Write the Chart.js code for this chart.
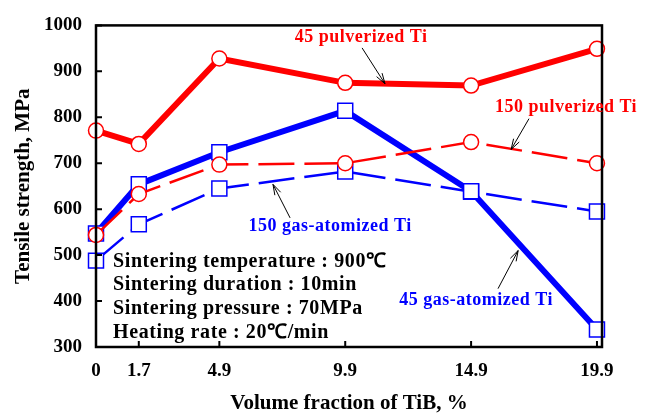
<!DOCTYPE html>
<html>
<head>
<meta charset="utf-8">
<script src="https://cdn.jsdelivr.net/npm/chart.js@4.4.1/dist/chart.umd.min.js"></script>
<style>
  html, body { margin: 0; padding: 0; background: #fff; }
  #wrap { width: 645px; height: 413px; }
</style>
</head>
<body>
<div id="wrap"><canvas id="myChart" width="645" height="413"></canvas></div>
<script>
// volume fraction of TiB (%)
const xTicks = [0, 1.7, 4.9, 9.9, 14.9, 19.9];
const yTicks = [300, 400, 500, 600, 700, 800, 900, 1000];

// tensile strength, MPa
const pulv45 = [771, 742, 928, 875, 869, 949];
const pulv150 = [544, 633, 697, 700, 746, 700];
const gas45 = [547, 654, 724, 814, 639, 338];
const gas150 = [488, 567, 645, 682, 638, 595];

const infoLines = [
    'Sintering temperature : 900\u2103',
    'Sintering duration : 10min',
    'Sintering pressure : 70MPa',
    'Heating rate : 20\u2103/min'
];

const RED = '#ff0000';
const BLUE = '#0000ff';
const SERIF = "'Liberation Serif', 'Times New Roman', serif";

function toPoints(vals) {
    return vals.map((v, i) => ({x: xTicks[i], y: v}));
}

// label text, its anchor and arrow (tail -> head) in data units
const notes = [
    {text: '45 pulverized Ti', color: RED, at: [10.53, 975], tail: [10.57, 951], head: [11.48, 873]},
    {text: '150 pulverized Ti', color: RED, at: [18.67, 821], tail: [17.2, 797], head: [16.49, 730]},
    {text: '150 gas-atomized Ti', color: BLUE, at: [9.3, 563], tail: [7.71, 581], head: [7.03, 654]},
    {text: '45 gas-atomized Ti', color: BLUE, at: [15.1, 401], tail: [15.97, 427], head: [16.77, 510]}
];

const decor = {
    id: 'decor',
    afterDraw(chart) {
        const ctx = chart.ctx;
        const a = chart.chartArea;
        const xs = chart.scales.x;
        const ys = chart.scales.y;
        ctx.save();

        // frame
        ctx.strokeStyle = '#000';
        ctx.lineWidth = 2.5;
        ctx.strokeRect(a.left, a.top, a.right - a.left, a.bottom - a.top);

        // inner tick marks
        ctx.lineWidth = 2;
        ctx.beginPath();
        yTicks.forEach(v => {
            const y = ys.getPixelForValue(v);
            ctx.moveTo(a.left, y);
            ctx.lineTo(a.left + 6, y);
        });
        xTicks.forEach(v => {
            const x = xs.getPixelForValue(v);
            ctx.moveTo(x, a.bottom);
            ctx.lineTo(x, a.bottom - 6);
        });
        ctx.stroke();

        // labels with arrows
        ctx.font = 'bold 18px ' + SERIF;
        ctx.textAlign = 'center';
        ctx.textBaseline = 'middle';
        ctx.letterSpacing = '0.5px';
        notes.forEach(n => {
            ctx.fillStyle = n.color;
            ctx.fillText(n.text, xs.getPixelForValue(n.at[0]), ys.getPixelForValue(n.at[1]));
            const x1 = xs.getPixelForValue(n.tail[0]), y1 = ys.getPixelForValue(n.tail[1]);
            const x2 = xs.getPixelForValue(n.head[0]), y2 = ys.getPixelForValue(n.head[1]);
            const ang = Math.atan2(y2 - y1, x2 - x1);
            ctx.strokeStyle = '#000';
            ctx.lineWidth = 1;
            ctx.beginPath();
            ctx.moveTo(x1, y1);
            ctx.lineTo(x2, y2);
            ctx.moveTo(x2 - 11 * Math.cos(ang - 0.3), y2 - 11 * Math.sin(ang - 0.3));
            ctx.lineTo(x2, y2);
            ctx.lineTo(x2 - 11 * Math.cos(ang + 0.3), y2 - 11 * Math.sin(ang + 0.3));
            ctx.stroke();
        });

        // sintering conditions
        ctx.fillStyle = '#000';
        ctx.font = 'bold 20px ' + SERIF;
        ctx.textAlign = 'left';
        ctx.letterSpacing = '0.6px';
        infoLines.forEach((t, i) => {
            ctx.fillText(t, a.left + 17, a.top + 236 + i * 23.7);
        });
        ctx.restore();
    }
};

const config = {
    type: 'line',
    data: {
        datasets: [
            {
                label: '150 pulverized Ti',
                data: toPoints(pulv150),
                borderColor: RED,
                borderWidth: 2.5,
                borderDash: [36, 10],
                pointStyle: 'circle',
                pointRadius: 7.5,
                pointBackgroundColor: '#fff',
                pointBorderColor: RED,
                pointBorderWidth: 1.5,
                clip: false
            },
            {
                label: '45 pulverized Ti',
                data: toPoints(pulv45),
                borderColor: RED,
                borderWidth: 6,
                pointStyle: 'circle',
                pointRadius: 7.5,
                pointBackgroundColor: '#fff',
                pointBorderColor: RED,
                pointBorderWidth: 1.5,
                clip: false
            },
            {
                label: '45 gas-atomized Ti',
                data: toPoints(gas45),
                borderColor: BLUE,
                borderWidth: 6,
                pointStyle: 'rect',
                pointRadius: 10.6,
                pointBackgroundColor: '#fff',
                pointBorderColor: BLUE,
                pointBorderWidth: 1.5,
                clip: false
            },
            {
                label: '150 gas-atomized Ti',
                data: toPoints(gas150),
                borderColor: BLUE,
                borderWidth: 2.5,
                borderDash: [36, 10],
                pointStyle: 'rect',
                pointRadius: 10.6,
                pointBackgroundColor: '#fff',
                pointBorderColor: BLUE,
                pointBorderWidth: 1.5,
                clip: false
            }
        ]
    },
    options: {
        responsive: false,
        animation: false,
        layout: {padding: {top: 23, right: 43, left: 0, bottom: 0}},
        plugins: {
            legend: {display: false},
            tooltip: {enabled: false}
        },
        scales: {
            x: {
                type: 'linear',
                min: 0,
                max: 20.1,
                afterBuildTicks: scale => { scale.ticks = xTicks.map(v => ({value: v})); },
                afterFit: scale => { scale.height = 66; },
                grid: {display: false, drawTicks: false},
                border: {display: false},
                ticks: {
                    padding: 13,
                    color: '#000',
                    font: {family: SERIF, size: 19, weight: 'bold'},
                    callback: v => String(v)
                },
                title: {
                    display: true,
                    text: 'Volume fraction of TiB, %',
                    color: '#000',
                    padding: {top: 0, bottom: -3},
                    font: {family: SERIF, size: 21, weight: 'bold'}
                }
            },
            y: {
                min: 300,
                max: 1000,
                afterBuildTicks: scale => { scale.ticks = yTicks.map(v => ({value: v})); },
                afterFit: scale => { scale.width = 96; },
                grid: {display: false, drawTicks: false},
                border: {display: false},
                ticks: {
                    padding: 14,
                    color: '#000',
                    font: {family: SERIF, size: 19, weight: 'bold'},
                    callback: v => String(v)
                },
                title: {
                    display: true,
                    text: 'Tensile strength, MPa',
                    color: '#000',
                    padding: {top: 11, bottom: 0},
                    font: {family: SERIF, size: 21, weight: 'bold'}
                }
            }
        }
    },
    plugins: [decor]
};

let myChart;

document.addEventListener('DOMContentLoaded', () => {
    myChart = new Chart(document.getElementById('myChart'), config);
});
</script>
</body>
</html>
